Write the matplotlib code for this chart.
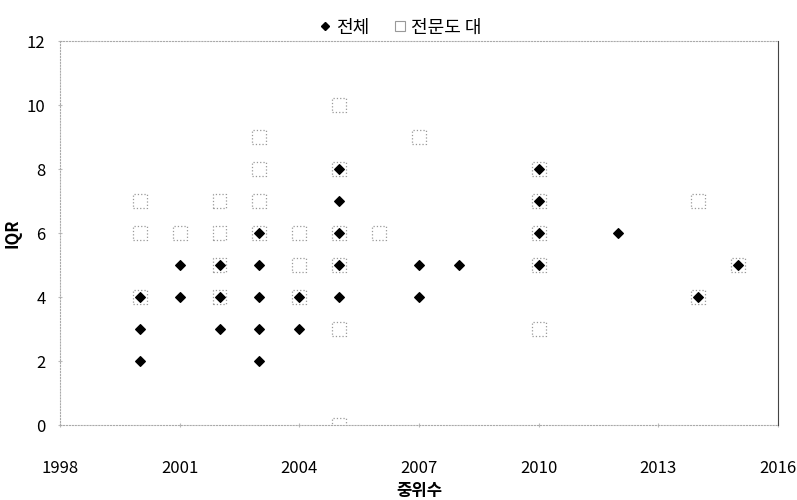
import matplotlib
matplotlib.use("Agg")
import matplotlib.pyplot as plt
from matplotlib.lines import Line2D

plt.rcParams['font.family'] = ['Noto Sans CJK KR', 'DejaVu Sans']

# 전체 (filled diamonds)
all_x = [2000, 2000, 2000, 2001, 2001, 2002, 2002, 2002,
         2003, 2003, 2003, 2003, 2003, 2004, 2004,
         2005, 2005, 2005, 2005, 2005, 2007, 2007, 2008,
         2010, 2010, 2010, 2010, 2012, 2014, 2015]
all_y = [4, 3, 2, 5, 4, 5, 4, 3,
         6, 5, 4, 3, 2, 4, 3,
         8, 7, 6, 5, 4, 5, 4, 5,
         8, 7, 6, 5, 6, 4, 5]

# 전문도 대 (open squares)
exp_x = [2000, 2000, 2000, 2001, 2002, 2002, 2002, 2002,
         2003, 2003, 2003, 2003, 2004, 2004, 2004,
         2005, 2005, 2005, 2005, 2005, 2005, 2006, 2007,
         2010, 2010, 2010, 2010, 2010, 2014, 2014, 2015]
exp_y = [7, 6, 4, 6, 7, 6, 5, 4,
         9, 8, 7, 6, 6, 5, 4,
         10, 8, 6, 5, 3, 0, 6, 9,
         8, 7, 6, 5, 3, 7, 4, 5]

x_ticks = [1998, 2001, 2004, 2007, 2010, 2013, 2016]
y_ticks = [0, 2, 4, 6, 8, 10, 12]

fig = plt.figure(figsize=(7.97, 5.0), dpi=100)
ax = fig.add_axes([0.0753, 0.15, 0.9007, 0.768])

ax.scatter(exp_x, exp_y, marker='s', s=100, facecolors='white',
           edgecolors='#999999', linewidths=0.9, linestyle=':', zorder=2)
ax.scatter(all_x, all_y, marker='D', s=24, color='black', zorder=3)

ax.set_xlim(1998, 2016)
ax.set_ylim(0, 12)
ax.set_xticks(x_ticks)
ax.set_yticks(y_ticks)
ax.tick_params(axis='both', labelsize=12, length=3, color='#bbbbbb', direction='inout')
ax.tick_params(axis='x', pad=24)
ax.tick_params(axis='y', pad=9)

for side in ['left', 'bottom', 'top']:
    ax.spines[side].set_color('#aaaaaa')
    ax.spines[side].set_linestyle(':')
    ax.spines[side].set_linewidth(0.8)
ax.spines['right'].set_color('#444444')
ax.spines['right'].set_linewidth(0.8)

ax.set_xlabel('중위수', fontsize=12, fontweight='bold', labelpad=3)
ax.set_ylabel('IQR', fontsize=12, fontweight='bold', labelpad=4)

handles = [
    Line2D([], [], marker='D', color='black', linestyle='none', markersize=4),
    Line2D([], [], marker='s', markerfacecolor='white', markeredgecolor='#999999',
           linestyle='none', markersize=7, markeredgewidth=0.8),
]
fig.legend(handles, ['전체', '전문도 대'], loc='upper center',
           bbox_to_anchor=(0.5, 0.995), ncol=2, frameon=False, fontsize=13,
           handletextpad=0.1, columnspacing=1.2, handlelength=1.0)

fig.savefig('out.png', dpi=100)
